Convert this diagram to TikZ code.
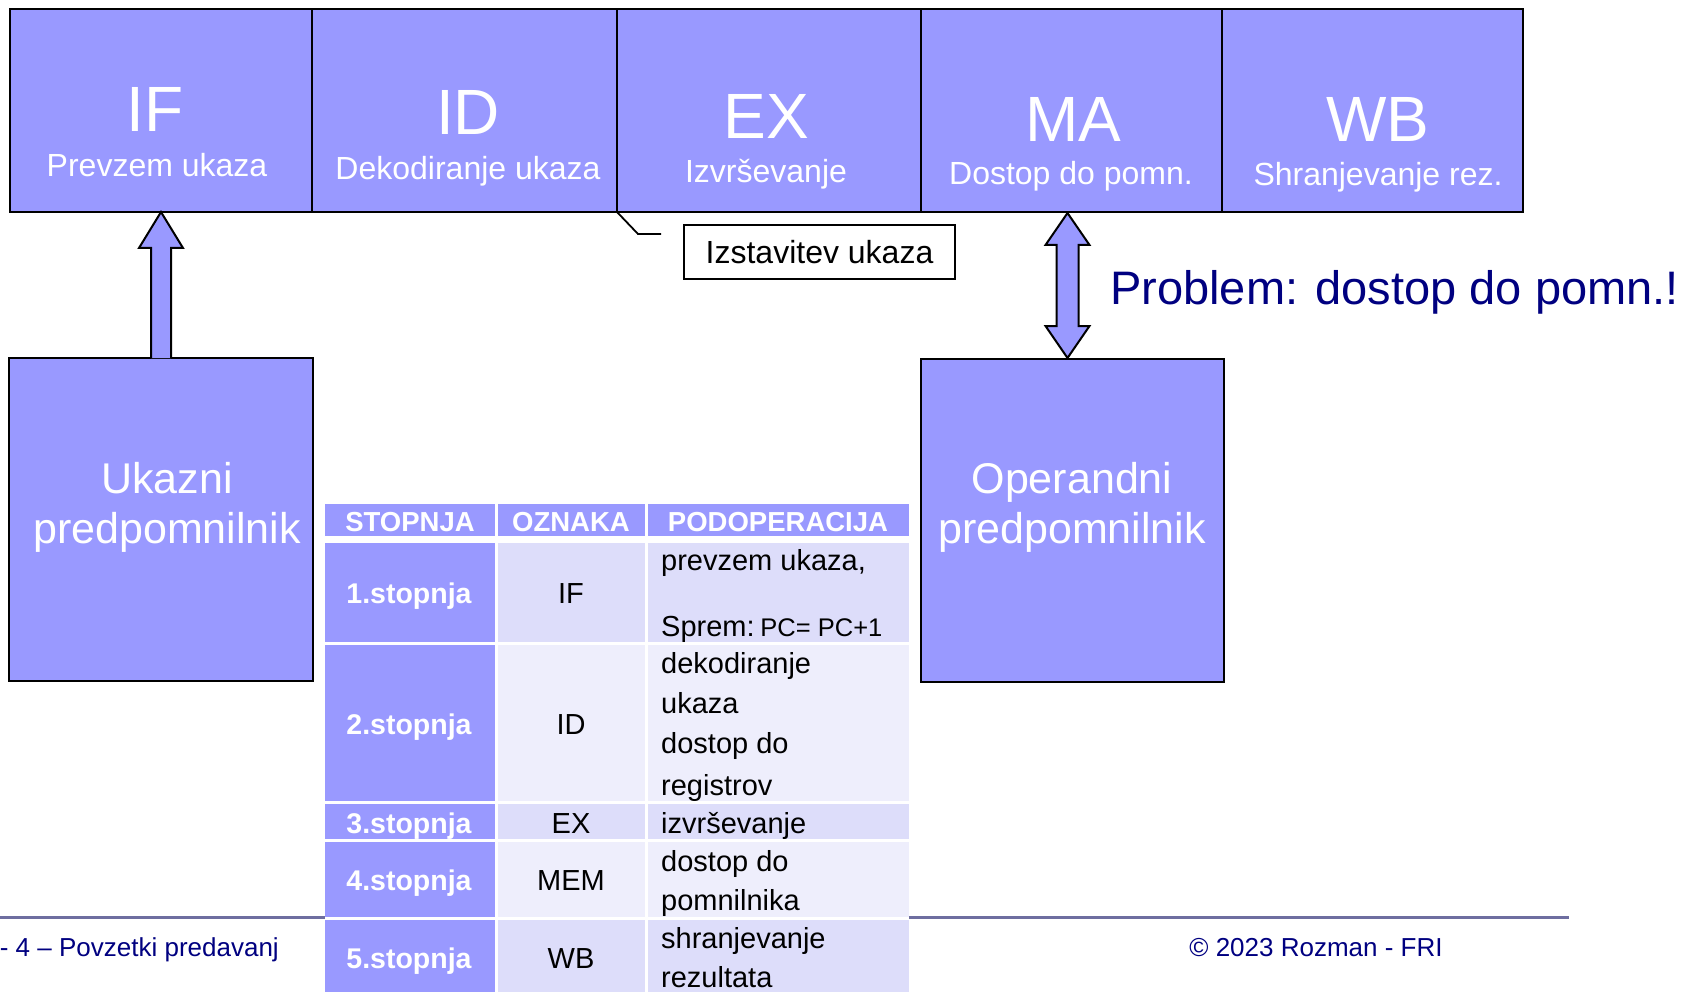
\documentclass[tikz,border=0pt]{standalone}
\usepackage{fontspec}
\setmainfont{Liberation Sans}
\usetikzlibrary{calc}
\definecolor{boxfill}{RGB}{153,153,255}
\definecolor{navy}{RGB}{0,0,128}
\definecolor{rowA}{RGB}{221,221,250}
\definecolor{rowB}{RGB}{238,238,252}
\definecolor{footline}{RGB}{110,110,160}
\begin{document}
\begin{tikzpicture}[x=1pt,y=-1pt,
  cell/.style={draw=black,line width=2pt,fill=boxfill,inner sep=0pt,outer sep=0pt,anchor=north west},
  bigt/.style={text=white,inner sep=0pt,anchor=base,font=\fontsize{64}{64}\selectfont},
  smallt/.style={text=white,inner sep=0pt,anchor=base,font=\fontsize{32}{32}\selectfont},
  cachet/.style={text=white,inner sep=0pt,anchor=base,font=\fontsize{43}{43}\selectfont},
  barrow/.style={draw=black,line width=2pt,fill=boxfill,line join=miter},
  hdr/.style={text=white,inner sep=0pt,anchor=base,font=\bfseries\fontsize{27.5}{27.5}\selectfont},
  c1t/.style={text=white,inner sep=0pt,anchor=base,font=\bfseries\fontsize{28.5}{28.5}\selectfont},
  c2t/.style={text=black,inner sep=0pt,anchor=base,font=\fontsize{29}{29}\selectfont},
  c3t/.style={text=black,inner sep=0pt,anchor=base west,font=\fontsize{29}{29}\selectfont},
  foot/.style={text=navy,inner sep=0pt,font=\fontsize{26}{26}\selectfont}]
\useasboundingbox (0,0) rectangle (1697,992);

% footer line (behind table)
\draw[footline,line width=3pt] (0,917.5) -- (1569,917.5);

% top pipeline row
\node[cell,minimum width=302,minimum height=203] (IF) at (10,9) {};
\node[cell,minimum width=305,minimum height=203] (ID) at (312,9) {};
\node[cell,minimum width=304,minimum height=203] (EX) at (617,9) {};
\node[cell,minimum width=301,minimum height=203] (MA) at (921,9) {};
\node[cell,minimum width=301,minimum height=203] (WB) at (1222,9) {};

\node[bigt] (IFa) at (155,132) {IF};
\node[smallt] (IFb) at (157,177) {Prevzem ukaza};
\node[bigt] (IDa) at (468,135) {ID};
\node[smallt] (IDb) at (468,180) {Dekodiranje ukaza};
\node[bigt] (EXa) at (766,139) {EX};
\node[smallt] (EXb) at (766,183) {Izvrševanje};
\node[bigt] (MAa) at (1073,142) {MA};
\node[smallt] (MAb) at (1071,185) {Dostop do pomn.};
\node[bigt] (WBa) at (1378,142) {WB};
\node[smallt] (WBb) at (1378,186) {Shranjevanje rez.};

% caches
\node[cell,minimum width=304,minimum height=323] (uk) at (9,358) {};
\node[cachet] (uka) at (167,493) {Ukazni};
\node[cachet] (ukb) at (167,543) {predpomnilnik};
\node[cell,minimum width=303,minimum height=323] (op) at (921,359) {};
\node[cachet] (opa) at (1072,493) {Operandni};
\node[cachet] (opb) at (1072,543) {predpomnilnik};

% arrow uk -> IF
\coordinate (hb) at ($(IF.south)+(0,36)$);
\draw[barrow] ($(uk.north)+(-10,0)$) -- ($(hb)+(-10,0)$) -- ($(hb)+(-22,0)$) -- (IF.south)
  -- ($(hb)+(22,0)$) -- ($(hb)+(10,0)$) -- ($(uk.north)+(10,0)$);

% double arrow MA <-> op
\coordinate (dt) at ($(MA.south)+(-4,1)$);
\coordinate (db) at ($(op.north)+(-5,-1)$);
\draw[barrow] (dt) -- ++(22,32) -- ++(-11,0) -- ($(db)+(11,-32)$) -- ++(11,0) -- (db)
  -- ++(-22,-32) -- ++(11,0) -- ($(dt)+(-11,32)$) -- ++(-11,0) -- cycle;

% issue label
\node[draw=black,line width=2pt,fill=white,minimum width=271,minimum height=54,inner sep=0pt,anchor=north west,
  font=\fontsize{32}{32}\selectfont] (iz) at (683,224) {Izstavitev ukaza};
\coordinate (ce) at (661,234);
\draw[line width=1.8pt] (EX.south west) -- (638,234) -- (ce);

% problem text
\node[text=navy,inner sep=0pt,anchor=base west,font=\fontsize{47}{47}\selectfont] (prob) at (1110,305) {Problem: dostop do pomn.!};

% table
\fill[white] (325,504) rectangle (909,992);
\fill[boxfill] (325,504) rectangle (495,536);
\fill[boxfill] (498,504) rectangle (645,536);
\fill[boxfill] (648,504) rectangle (909,536);
% column 1
\fill[boxfill] (325,543) rectangle (495,642);
\fill[boxfill] (325,645) rectangle (495,801);
\fill[boxfill] (325,804) rectangle (495,839);
\fill[boxfill] (325,842) rectangle (495,917);
\fill[boxfill] (325,920) rectangle (495,995);
% rows
\fill[rowA] (498,543) rectangle (645,642);
\fill[rowA] (648,543) rectangle (909,642);
\fill[rowB] (498,645) rectangle (645,801);
\fill[rowB] (648,645) rectangle (909,801);
\fill[rowA] (498,804) rectangle (645,839);
\fill[rowA] (648,804) rectangle (909,839);
\fill[rowB] (498,842) rectangle (645,917);
\fill[rowB] (648,842) rectangle (909,917);
\fill[rowA] (498,920) rectangle (645,995);
\fill[rowA] (648,920) rectangle (909,995);

\node[hdr] (h1) at (410,531) {STOPNJA};
\node[hdr] (h2) at (571,531) {OZNAKA};
\node[hdr] (h3) at (778,531) {PODOPERACIJA};

\node[c1t] (s1) at (409,603) {1.stopnja};
\node[c2t] (o1) at (571,603) {IF};
\node[c3t] (p1a) at (661,570) {prevzem ukaza,};
\node[c3t] (p1b) at (661,636) {Sprem:\hspace{0.2em}{\fontsize{25.5}{25.5}\selectfont PC= PC+1}};

\node[c1t] (s2) at (409,734) {2.stopnja};
\node[c2t] (o2) at (571,734) {ID};
\node[c3t] (p2a) at (661,673) {dekodiranje};
\node[c3t] (p2b) at (661,713) {ukaza};
\node[c3t] (p2c) at (661,753) {dostop do};
\node[c3t] (p2d) at (661,795) {registrov};

\node[c1t] (s3) at (409,833) {3.stopnja};
\node[c2t] (o3) at (571,833) {EX};
\node[c3t] (p3a) at (661,833) {izvrševanje};

\node[c1t] (s4) at (409,890) {4.stopnja};
\node[c2t] (o4) at (571,890) {MEM};
\node[c3t] (p4a) at (661,871) {dostop do};
\node[c3t] (p4b) at (661,910) {pomnilnika};

\node[c1t] (s5) at (409,968) {5.stopnja};
\node[c2t] (o5) at (571,968) {WB};
\node[c3t] (p5a) at (661,948) {shranjevanje};
\node[c3t] (p5b) at (661,987) {rezultata};

% footer texts
\node[foot,anchor=base east] (f1) at (279,956) {- 4 – Povzetki predavanj};
\node[foot,anchor=base] (f2) at (1316,956) {© 2023 Rozman - FRI};
\end{tikzpicture}
\end{document}
